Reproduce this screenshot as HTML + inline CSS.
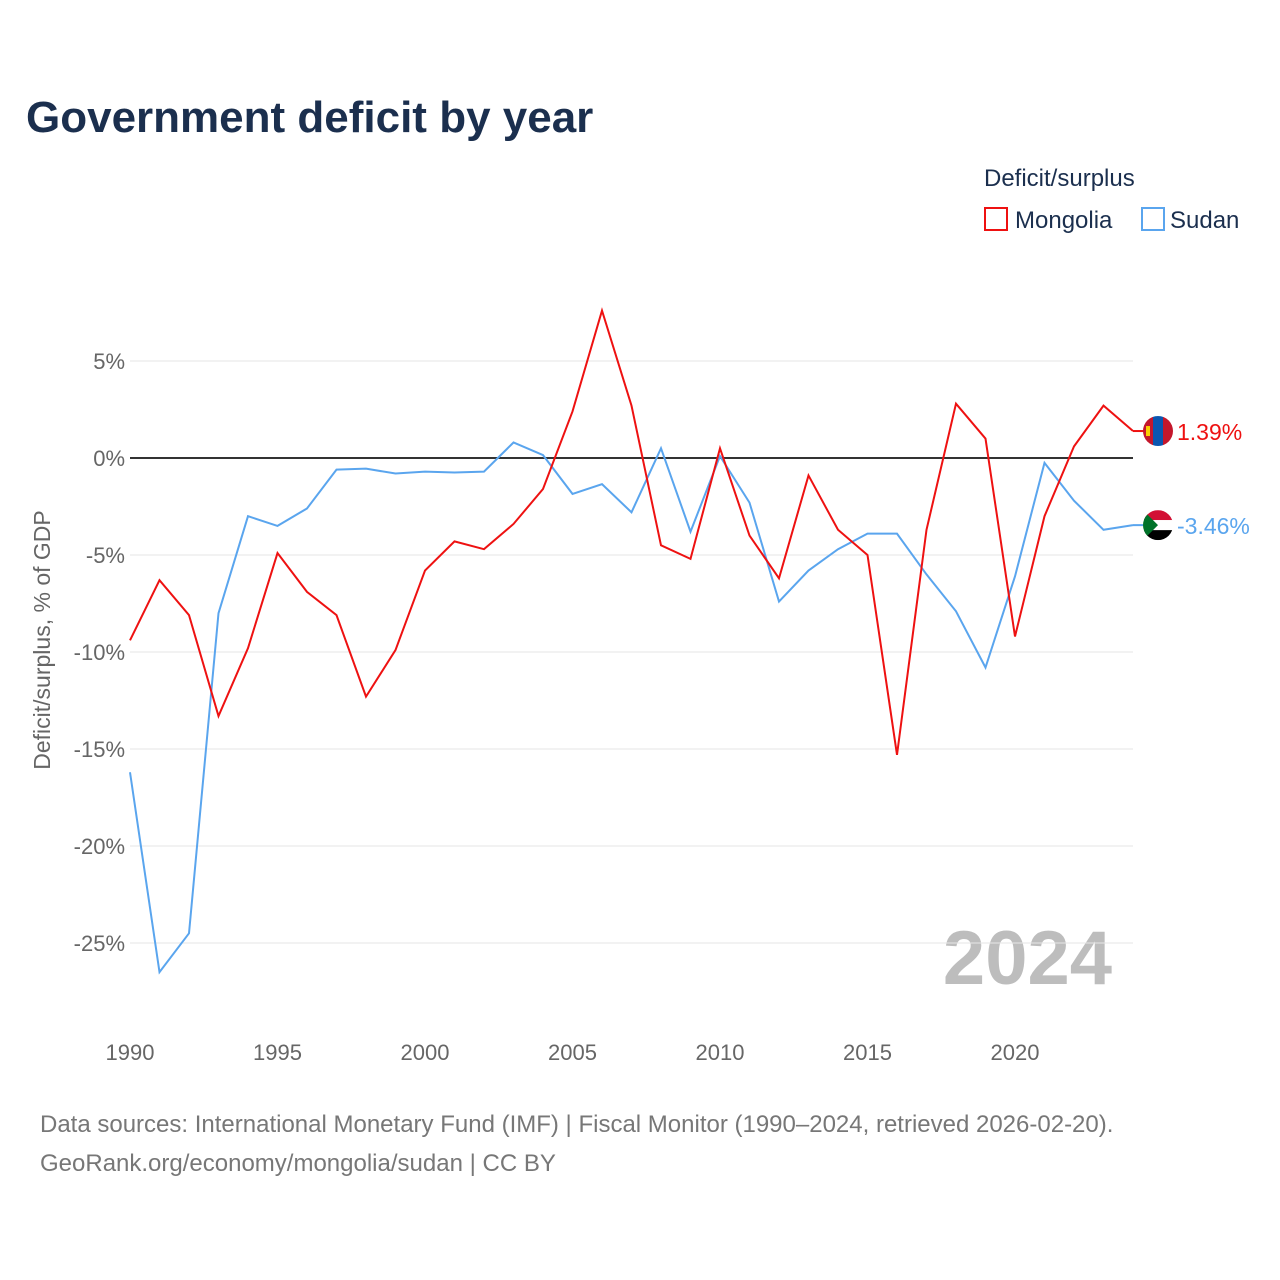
<!DOCTYPE html>
<html><head><meta charset="utf-8"><style>
html,body{margin:0;padding:0;background:#fff;width:1280px;height:1280px;overflow:hidden;font-family:"Liberation Sans",sans-serif}
</style></head><body>
<svg id="chart" width="1280" height="1280" xmlns="http://www.w3.org/2000/svg" font-family="Liberation Sans, sans-serif">
<text x="26" y="132" font-size="44" font-weight="bold" fill="#1b2f4e">Government deficit by year</text>
<text x="984" y="186" font-size="24" fill="#1b2f4e">Deficit/surplus</text>
<g><rect x="985" y="208" width="22" height="22" fill="none" stroke="#ee1111" stroke-width="2"/><text x="1015" y="228" font-size="24" fill="#1b2f4e">Mongolia</text></g>
<g><rect x="1142" y="208" width="22" height="22" fill="none" stroke="#5aa5ee" stroke-width="2"/><text x="1170" y="228" font-size="24" fill="#1b2f4e">Sudan</text></g>
<text transform="translate(50,640) rotate(-90)" text-anchor="middle" font-size="23" fill="#666">Deficit/surplus, % of GDP</text>
<text x="1112" y="984" text-anchor="end" font-size="76" font-weight="bold" fill="#bdbdbd">2024</text>
<defs><clipPath id="cm"><circle cx="0" cy="0" r="15"/></clipPath></defs>
<g id="grid"></g><g id="series"></g>
<text x="40" y="1132" font-size="24" fill="#777">Data sources: International Monetary Fund (IMF) | Fiscal Monitor (1990–2024, retrieved 2026-02-20).</text>
<text x="40" y="1171" font-size="24" fill="#777">GeoRank.org/economy/mongolia/sudan | CC BY</text>
</svg>
<script>
const years=[];for(let y=1990;y<=2024;y++)years.push(y);
const mongolia=[-9.4,-6.3,-8.1,-13.3,-9.8,-4.9,-6.9,-8.1,-12.3,-9.9,-5.8,-4.3,-4.7,-3.4,-1.6,2.4,7.6,2.7,-4.5,-5.2,0.5,-4.0,-6.2,-0.9,-3.7,-5.0,-15.3,-3.7,2.8,1.0,-9.2,-3.0,0.6,2.7,1.39];
const sudan=[-16.2,-26.5,-24.5,-8.0,-3.0,-3.5,-2.6,-0.6,-0.55,-0.8,-0.7,-0.75,-0.7,0.8,0.15,-1.85,-1.35,-2.8,0.5,-3.8,0.1,-2.3,-7.4,-5.8,-4.7,-3.9,-3.9,-6.0,-7.9,-10.8,-6.1,-0.25,-2.2,-3.7,-3.46];
const yTicks=[5,0,-5,-10,-15,-20,-25];
const xTicks=[1990,1995,2000,2005,2010,2015,2020];
const NS="http://www.w3.org/2000/svg";
const xs=y=>130+(y-1990)*(1003/34);
const ys=v=>458-v*19.4;
function mk(t,a,p){const e=document.createElementNS(NS,t);for(const k in a)e.setAttribute(k,a[k]);p.appendChild(e);return e;}
const grid=document.getElementById('grid'),ser=document.getElementById('series');
yTicks.forEach(v=>{
 const l=mk('line',{x1:130,x2:1133,y1:ys(v),y2:ys(v),stroke:v===0?'#333':'#e6e6e6','stroke-width':v===0?2:1},grid);
 
 
 const t=mk('text',{x:125,y:ys(v)+8,'text-anchor':'end','font-size':22,fill:'#666'},grid);
 t.textContent=v+'%';
 
 
});
xTicks.forEach(y=>{
 const t=mk('text',{x:xs(y),y:1060,'text-anchor':'middle','font-size':22,fill:'#666'},grid);
 t.textContent=y;
 
 
});
function line(d,c,name,lab){
 const p=mk('polyline',{points:d.map((v,i)=>xs(years[i])+','+ys(v)).join(' '),fill:'none',stroke:c,'stroke-width':2},ser);
 
 
 const last=d[d.length-1],ly=ys(last);
 mk('line',{x1:1133,x2:1145,y1:ly,y2:ly,stroke:c,'stroke-width':2},ser);
 const f=mk('g',{transform:'translate(1158,'+ly+')','clip-path':'url(#cm)'},ser);
 
 
 if(name==='mongolia'){
  mk('rect',{x:-15,y:-15,width:10,height:30,fill:'#c4172c'},f);
  mk('rect',{x:-5,y:-15,width:10,height:30,fill:'#0a56b0'},f);
  mk('rect',{x:5,y:-15,width:10,height:30,fill:'#c4172c'},f);
  mk('rect',{x:-12,y:-5,width:4,height:10,fill:'#f9cf02'},f);
 }else{
  mk('rect',{x:-15,y:-15,width:30,height:10,fill:'#d21034'},f);
  mk('rect',{x:-15,y:-5,width:30,height:10,fill:'#fff'},f);
  mk('rect',{x:-15,y:5,width:30,height:10,fill:'#000'},f);
  mk('polygon',{points:'-15,-15 0,0 -15,15',fill:'#007229'},f);
 }
 const t=mk('text',{x:1177,y:ly+9,'font-size':23,fill:c},ser);
 t.textContent=lab;
 
 
}
line(sudan,'#5aa5ee','sudan',sudan[sudan.length-1].toFixed(2)+'%');
line(mongolia,'#ee1111','mongolia',mongolia[mongolia.length-1].toFixed(2)+'%');
</script>
</body></html>
